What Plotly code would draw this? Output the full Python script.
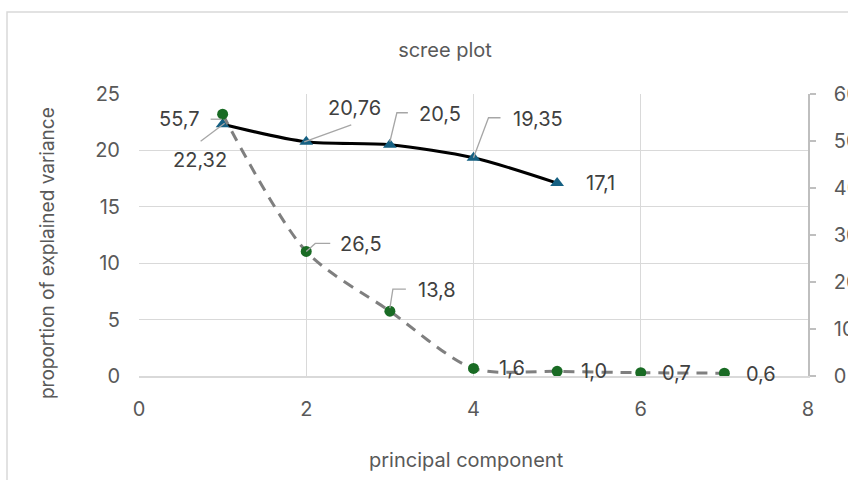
import plotly.graph_objects as go

# Proportion of explained variance per component (left axis)
components_var = [1, 2, 3, 4, 5]
variance_share = [22.32, 20.76, 20.5, 19.35, 17.1]

# Eigenvalue-based series per component (right axis)
components_eig = [1, 2, 3, 4, 5, 6, 7]
eigen_values = [55.7, 26.5, 13.8, 1.6, 1.0, 0.7, 0.6]

x_ticks = [0, 2, 4, 6, 8]
left_ticks = [0, 5, 10, 15, 20, 25]
right_ticks = [0, 10, 20, 30, 40, 50, 60]

title_text = "scree plot"
x_title = "principal component"
y_title = "proportion of explained variance"

FONT = "Inter, Roboto, 'Open Sans', sans-serif"
LABEL_COLOR = "#404040"
TICK_COLOR = "#595959"
GRID = "#d9d9d9"


def comma(v, decimals=None):
    s = f"{v:.{decimals}f}" if decimals is not None else f"{v:g}"
    return s.replace(".", ",")


# Label placement (pixel offsets from the marker, y up) and elbow leader paths
var_label_pos = [(-23, -36), (48, 34), (50, 31), (64, 39), (43, 0)]
var_leaders = ["M 2,1 L -22,-17", "M -2,0 L 45,17", "M 0,3 L 7,32 L 18,32",
               "M 0,0 L 15,40 L 27,40", None]
eig_label_pos = [(-43, -5), (55, 7), (47, 21), (38, 0), (37, 0), (36, 0), (37, -1)]
eig_leaders = ["M -12,-5 L -1,-5", "M 0,0 L 9,8 L 24,8", "M 0,3 L 3,22 L 16,22",
               None, None, None, None]

fig = go.Figure()

fig.add_trace(go.Scatter(
    x=components_var, y=variance_share, mode="lines+markers",
    line=dict(color="black", width=3, shape="spline", smoothing=0.8),
    marker=dict(symbol="triangle-up", size=12, color="#156082"),
    yaxis="y", showlegend=False, hoverinfo="x+y",
))
fig.add_trace(go.Scatter(
    x=components_eig, y=eigen_values, mode="lines+markers",
    line=dict(color="#7f7f7f", width=3, shape="spline", smoothing=0.8,
              dash="11px,8px"),
    marker=dict(symbol="circle", size=11, color="#196b24"),
    yaxis="y2", showlegend=False, hoverinfo="x+y",
))

annotations = []
shapes = []

for x, v, (dx, dy), lead in zip(components_var, variance_share, var_label_pos, var_leaders):
    annotations.append(dict(x=x, y=v, xref="x", yref="y", text=comma(v),
                            showarrow=False, xshift=dx, yshift=dy,
                            font=dict(family=FONT, size=20, color=LABEL_COLOR)))
    if lead:
        shapes.append(dict(type="path", xref="x", yref="y", xsizemode="pixel",
                           ysizemode="pixel", xanchor=x, yanchor=v, path=lead,
                           line=dict(color="#a6a6a6", width=1.3), layer="above"))

for x, v, (dx, dy), lead in zip(components_eig, eigen_values, eig_label_pos, eig_leaders):
    annotations.append(dict(x=x, y=v, xref="x", yref="y2", text=comma(v, 1),
                            showarrow=False, xshift=dx, yshift=dy,
                            font=dict(family=FONT, size=20, color=LABEL_COLOR)))
    if lead:
        shapes.append(dict(type="path", xref="x", yref="y2", xsizemode="pixel",
                           ysizemode="pixel", xanchor=x, yanchor=v, path=lead,
                           line=dict(color="#a6a6a6", width=1.3), layer="above"))

# Axis titles
annotations.append(dict(x=0.489, y=-0.298, xref="paper", yref="paper",
                        text=x_title, showarrow=False, xanchor="center",
                        yanchor="middle",
                        font=dict(family=FONT, size=20, color=TICK_COLOR)))
annotations.append(dict(x=-0.1375, y=0.436, xref="paper", yref="paper",
                        text=y_title, showarrow=False, textangle=-90,
                        xanchor="center", yanchor="middle",
                        font=dict(family=FONT, size=19, color=TICK_COLOR)))

# Chart-area frame
shapes.append(dict(type="rect", xref="paper", yref="paper",
                   x0=-0.1973, x1=1.3, y0=-0.6, y1=1.2908,
                   line=dict(color=GRID, width=1.5), fillcolor="rgba(0,0,0,0)",
                   layer="below"))

fig.update_layout(
    width=848, height=480,
    margin=dict(l=139, r=40, t=94, b=104, autoexpand=False),
    paper_bgcolor="white", plot_bgcolor="white",
    title=dict(text=title_text, x=445 / 848, y=1 - 50 / 480,
               xanchor="center", yanchor="middle",
               font=dict(family=FONT, size=20, color=TICK_COLOR)),
    xaxis=dict(range=[0, 8], tickvals=x_ticks, showgrid=True, gridcolor=GRID,
               gridwidth=1, zeroline=False, showline=True, linecolor=GRID,
               linewidth=1.5, ticks="", ticklabelstandoff=14,
               tickfont=dict(family=FONT, size=20, color=TICK_COLOR)),
    yaxis=dict(range=[0, 25], tickvals=left_ticks, showgrid=True,
               gridcolor=GRID, gridwidth=1, zeroline=False, showline=False,
               ticks="", ticklabelstandoff=18,
               tickfont=dict(family=FONT, size=20, color=TICK_COLOR)),
    yaxis2=dict(range=[0, 60], tickvals=right_ticks, overlaying="y",
                side="right", showgrid=False, zeroline=False, showline=True,
                linecolor="#bfbfbf", linewidth=1.5, ticks="outside", ticklen=6,
                tickcolor="#bfbfbf", tickwidth=1.5, ticklabelstandoff=14,
                tickfont=dict(family=FONT, size=20, color=TICK_COLOR)),
    annotations=annotations,
    shapes=shapes,
)

fig.write_html("out.html")
